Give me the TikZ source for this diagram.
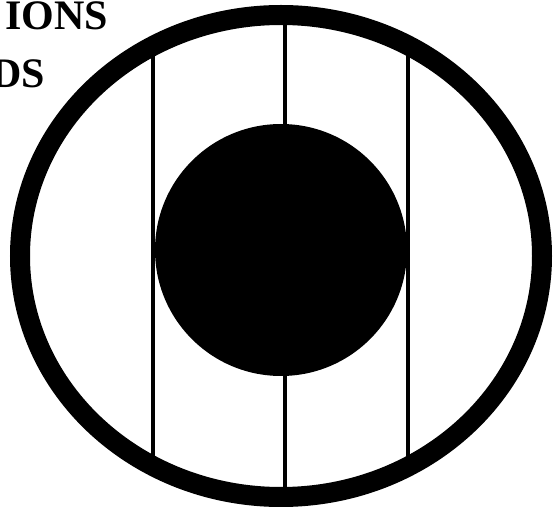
\documentclass[tikz,border=0pt]{standalone}
\usepackage{fontspec}
\setmainfont{Liberation Serif}
\usetikzlibrary{math}

\tikzset{
  rodline/.style={line width=3.5pt},
  bigtext/.style={anchor=base east,inner sep=0pt,font=\bfseries\fontsize{42pt}{44pt}\selectfont},
}

\begin{document}
\begin{tikzpicture}[x=1pt,y=-1pt]
\tikzmath{
\cx=281;
\cy=256;
\rx=261;
\ry=241;
\R=126;
}
\useasboundingbox (0,0) rectangle (558,513);

\node[bigtext] (ions) at (108,30) {IONS};
\node[bigtext] (ds) at (45,88) {DS};

% vertical lines, kept inside the ring
\begin{scope}
\clip (\cx,\cy) ellipse [x radius=\rx pt, y radius=\ry pt];
\foreach \xl in {153,285,408}
  \draw[rodline] (\xl,0) -- (\xl,513);
\end{scope}

% core
\fill (\cx,250) circle [radius=\R pt];

% ring
\draw[line width=20pt] (\cx,\cy) ellipse [x radius=\rx pt, y radius=\ry pt];
\end{tikzpicture}
\end{document}
